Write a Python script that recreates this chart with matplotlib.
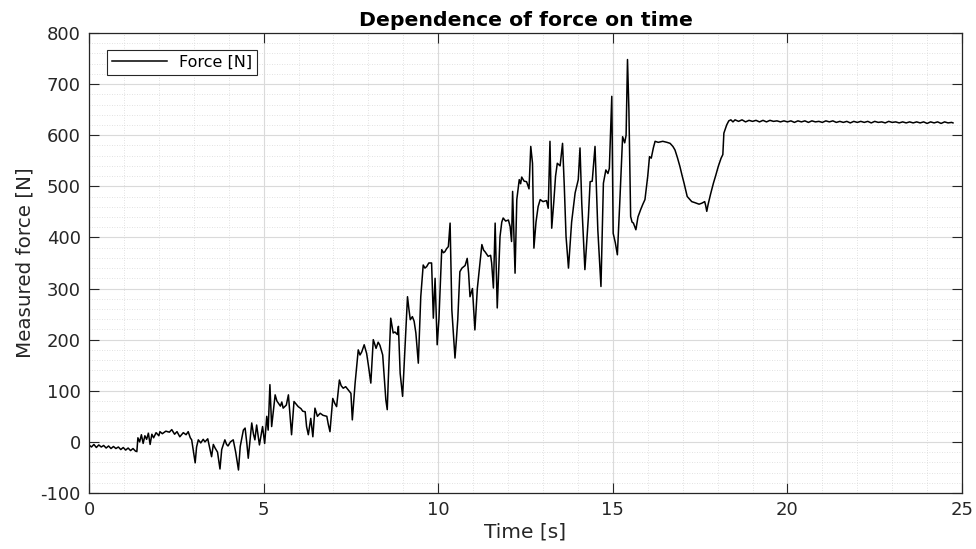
import matplotlib
matplotlib.use("Agg")
import matplotlib.pyplot as plt
from matplotlib.ticker import MultipleLocator

# Force readings
# start: slow drift before the load comes on
start_t = [0.00, 0.07, 0.14, 0.21, 0.28, 0.35, 0.42, 0.49, 0.56, 0.63, 0.70, 0.77, 0.84, 0.91,
           0.98, 1.05, 1.12, 1.19, 1.26, 1.33, 1.37]
start_f = [-6, -10, -5, -11, -6, -10, -7, -12, -8, -13, -9, -13, -10, -15,
           -11, -16, -12, -17, -13, -18, -19]

# loading phase
load_t = [1.40, 1.45, 1.50,
          1.55, 1.60, 1.65, 1.70, 1.75, 1.80, 1.85, 1.92, 2.00, 2.03, 2.10, 2.20, 2.30, 2.37,
          2.45, 2.52, 2.60, 2.70, 2.78, 2.84, 2.90, 2.94, 3.04, 3.08, 3.13, 3.20, 3.27, 3.32,
          3.40, 3.45, 3.51, 3.56, 3.61, 3.68, 3.75, 3.80, 3.89, 3.94, 3.98, 4.05, 4.13, 4.20,
          4.28, 4.33, 4.42, 4.47, 4.52, 4.56, 4.66, 4.71, 4.75, 4.80, 4.88, 4.97, 5.03, 5.09,
          5.13, 5.18, 5.23, 5.33, 5.38, 5.42, 5.48, 5.52, 5.56, 5.65, 5.71, 5.76, 5.80, 5.87,
          5.93, 5.99, 6.07, 6.12, 6.19, 6.23, 6.28, 6.35, 6.41, 6.47, 6.54, 6.62, 6.70, 6.81,
          6.85, 6.90, 6.98, 7.04, 7.09, 7.17, 7.22, 7.28, 7.35, 7.43, 7.50, 7.54, 7.62, 7.71,
          7.76, 7.81, 7.88, 7.95, 8.00, 8.07, 8.14, 8.22, 8.28, 8.33, 8.41, 8.46, 8.50, 8.54,
          8.57, 8.64, 8.71, 8.76, 8.83, 8.86, 8.91, 8.98, 9.05, 9.12, 9.16, 9.20, 9.26, 9.31,
          9.36, 9.43, 9.50, 9.57, 9.62, 9.67, 9.73, 9.81, 9.86, 9.91, 9.97, 10.02, 10.10, 10.15,
          10.19, 10.24, 10.29, 10.34, 10.39, 10.48, 10.52, 10.56, 10.62, 10.68, 10.77, 10.83,
          10.87, 10.91, 10.98, 11.05, 11.12, 11.20, 11.25, 11.30, 11.34, 11.43, 11.50, 11.53,
          11.58, 11.63, 11.69, 11.77, 11.82, 11.86, 11.93, 12.01, 12.06, 12.10, 12.13, 12.20,
          12.25, 12.32, 12.36, 12.39, 12.46, 12.53, 12.60, 12.65, 12.70, 12.74, 12.80, 12.86,
          12.92, 13.00, 13.10, 13.15, 13.20, 13.25, 13.31, 13.36, 13.41, 13.49, 13.56, 13.61,
          13.66, 13.73, 13.82, 13.92, 14.01, 14.06, 14.11, 14.20, 14.30, 14.35, 14.41, 14.49,
          14.57, 14.66, 14.73, 14.80, 14.86, 14.90, 14.97, 15.01, 15.07, 15.13, 15.20, 15.28,
          15.34, 15.38, 15.42, 15.46, 15.49, 15.51, 15.55, 15.59, 15.66, 15.72, 15.80, 15.86,
          15.92, 16.00, 16.05, 16.10, 16.16, 16.21, 16.30, 16.43, 16.55, 16.64, 16.72, 16.78,
          16.85, 16.92, 16.98, 17.04, 17.13, 17.26, 17.35, 17.47, 17.55, 17.63, 17.66, 17.69,
          17.73, 17.80, 17.88, 17.95, 18.02, 18.10, 18.15, 18.18, 18.26, 18.32, 18.38, 18.44]
load_f = [8, 0, 14,
          -3, 12, 5, 17, -5, 15, 8, 18, 12, 20, 16, 21, 19, 24,
          15, 20, 10, 18, 14, 20, 8, 4, -41, -10, 4, -2, 5, 0,
          6, -10, -29, -5, -12, -20, -53, -15, 4, -5, -8, 0, 4, -20,
          -55, -9, 23, 27, -3, -32, 37, 15, 4, 33, -6, 30, -3, 50,
          23, 112, 30, 92, 80, 76, 70, 78, 66, 72, 92, 50, 14, 79,
          74, 69, 65, 60, 59, 30, 14, 46, 10, 66, 50, 56, 52, 50,
          35, 20, 85, 75, 69, 121, 110, 105, 108, 101, 95, 43, 115, 180,
          170, 176, 190, 173, 150, 115, 200, 183, 195, 189, 170, 120, 82, 63,
          121, 242, 213, 215, 210, 226, 134, 89, 187, 284, 260, 239, 245, 236,
          213, 154, 284, 346, 340, 343, 350, 350, 242, 320, 190, 240, 376, 370,
          372, 378, 382, 428, 258, 164, 200, 240, 333, 340, 345, 359,
          330, 284, 300, 219, 300, 353, 386, 375, 372, 363, 365, 350,
          301, 428, 262, 402, 430, 438, 432, 434, 421, 392, 490, 330,
          474, 513, 505, 518, 510, 509, 495, 578, 545, 379, 430, 460,
          474, 470, 472, 457, 588, 418, 470, 520, 545, 540, 584, 500,
          402, 340, 430, 487, 513, 575, 467, 337, 440, 509, 510, 578,
          415, 304, 506, 532, 525, 535, 676, 408, 390, 366, 470, 597,
          585, 600, 748, 650, 520, 441, 430, 428, 415, 440, 455, 465,
          474, 520, 558, 555, 575, 588, 586, 588, 586, 584, 578, 571,
          556, 539, 522, 506, 480, 470, 468, 465, 467, 470, 462, 451,
          465, 485, 506, 522, 539, 555, 562, 604, 620, 628, 630, 626]

# holding phase: flat with small ripple
hold_t = [18.5, 18.6, 18.7, 18.8, 18.9, 19.0, 19.1, 19.2, 19.3, 19.4, 19.5, 19.6, 19.7, 19.8,
          19.9, 20.0, 20.1, 20.2, 20.3, 20.4, 20.5, 20.6, 20.7, 20.8, 20.9, 21.0, 21.1, 21.2,
          21.3, 21.4, 21.5, 21.6, 21.7, 21.8, 21.9, 22.0, 22.1, 22.2, 22.3, 22.4, 22.5, 22.6,
          22.7, 22.8, 22.9, 23.0, 23.1, 23.2, 23.3, 23.4, 23.5, 23.6, 23.7, 23.8, 23.9, 24.0,
          24.1, 24.2, 24.3, 24.4, 24.5, 24.6, 24.7, 24.74]
hold_f = [630, 627, 630, 626, 629, 627, 629, 626, 629, 626, 629, 627, 628, 626,
          628, 626, 628, 625, 628, 626, 628, 625, 628, 626, 627, 625, 628, 626,
          628, 625, 627, 625, 627, 624, 627, 625, 627, 625, 627, 624, 627, 625,
          626, 624, 627, 625, 626, 624, 626, 624, 626, 624, 626, 624, 626, 623,
          626, 624, 626, 623, 626, 624, 625, 624]

plt.rcParams['font.family'] = 'DejaVu Sans'
plt.rcParams['axes.unicode_minus'] = False

fig = plt.figure(figsize=(9.76, 5.49), dpi=100)
ax = fig.add_axes([0.0912, 0.102, 0.8945, 0.838])

ax.plot(start_t + load_t + hold_t, start_f + load_f + hold_f,
        color='black', linewidth=1.1, label='Force [N]')

ax.set_xlim(0, 25)
ax.set_ylim(-100, 800)
ax.xaxis.set_major_locator(MultipleLocator(5))
ax.xaxis.set_minor_locator(MultipleLocator(1))
ax.yaxis.set_major_locator(MultipleLocator(100))
ax.yaxis.set_minor_locator(MultipleLocator(20))

ax.grid(True, which='major', color='#dadada', linewidth=0.8, linestyle='-')
ax.grid(True, which='minor', color='#d8d8d8', linewidth=0.6, linestyle=(0, (1, 2)))
ax.set_axisbelow(True)

ax.tick_params(which='major', direction='in', length=7, width=0.8, color='#262626',
               labelcolor='#262626', labelsize=13, top=True, right=True, pad=6)
ax.tick_params(which='minor', length=0, top=True, right=True)
for s in ax.spines.values():
    s.set_color('#262626')
    s.set_linewidth(0.9)

ax.set_title('Dependence of force on time', fontsize=14.7, fontweight='bold', pad=5)
ax.set_xlabel('Time [s]', fontsize=14.5, labelpad=2, color='#262626')
ax.set_ylabel('Measured force [N]', fontsize=14.3, labelpad=4, color='#262626')

leg = ax.legend(loc='upper left', fontsize=11.5, fancybox=False, framealpha=1,
                edgecolor='#262626', handlelength=3.4, borderpad=0.3,
                bbox_to_anchor=(0.012, 0.98))
leg.get_frame().set_linewidth(0.8)

fig.savefig('out.png', dpi=100)
